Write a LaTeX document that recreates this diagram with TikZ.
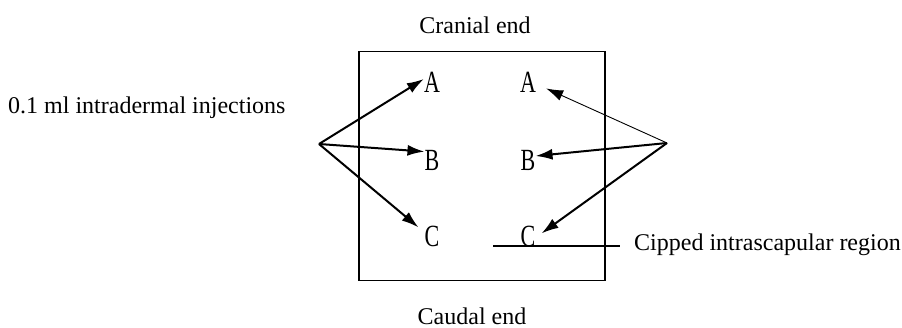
\documentclass[tikz,border=0pt]{standalone}
\usepackage{fontspec}
\setmainfont{Liberation Serif}
\usetikzlibrary{arrows.meta}
\begin{document}
\begin{tikzpicture}[x=1pt,y=-1pt,
  lbl/.style={font=\fontsize{24}{26}\selectfont, inner sep=0pt},
  letter/.style={font=\fontsize{22}{24}\selectfont, inner sep=0pt, yscale=1.4, transform shape},
  thickarrow/.style={line width=2pt, -{Latex[length=17pt,width=11pt]}},
  thinarrow/.style={line width=0.9pt, -{Latex[length=17pt,width=11pt]}}]
\useasboundingbox (0,0) rectangle (902,328);
\node[draw, line width=1.6pt, minimum width=246pt, minimum height=229pt, inner sep=0pt] (box) at (482,166) {};
\node[lbl] (cranial) at (475,25) {Cranial end};
\node[lbl] (caudal) at (472,316) {Caudal end};
\node[lbl, anchor=west] (inj) at (8,108) {0.1 ml intradermal injections};
\node[lbl, anchor=west] (clip) at (634,245) {Cipped intrascapular region};
\node[letter] (lA) at (432,82) {A};
\node[letter] (lB) at (432,160) {B};
\node[letter] (lC) at (432,236) {C};
\node[letter] (rA) at (528,82) {A};
\node[letter] (rB) at (528,160) {B};
\node[letter] (rC) at (528,236) {C};
\coordinate (ls) at (319,144);
\coordinate (rs) at (667,143);
\coordinate (cl) at (493,246);
\draw[thickarrow] (ls) -- ([yshift=3pt]lA.west);
\draw[thickarrow] (ls) -- ([yshift=-2pt]lB.north west);
\draw[thickarrow] (ls) -- ([xshift=-6pt,yshift=-2pt]lC.north west);
\draw[thinarrow] (rs) -- ([xshift=10pt,yshift=4pt]rA.south east);
\draw[thickarrow] (rs) -- ([yshift=4pt]rB.east);
\draw[thickarrow] (rs) -- ([xshift=6pt,yshift=-8pt]rC.north east);
\draw[line width=1.4pt] (cl) -- ([xshift=-14pt]cl -| clip.west);
\end{tikzpicture}
\end{document}
